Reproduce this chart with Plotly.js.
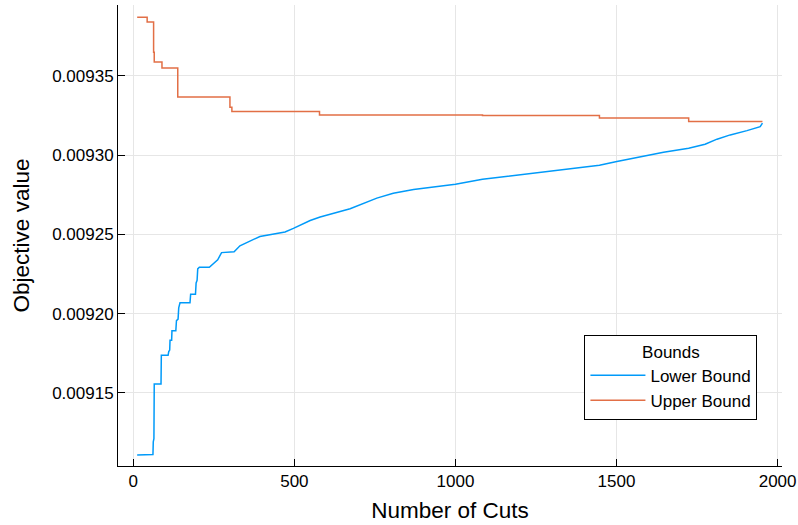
<!DOCTYPE html>
<html>
<head>
<meta charset="utf-8">
<script src="https://cdn.plot.ly/plotly-3.0.1.min.js"></script>
<style>html,body{margin:0;padding:0;background:#fff;}#chart{width:798px;height:525px;}</style>
</head>
<body>
<div id="chart"></div>
<script>
const lowerX = [12, 43, 43, 61, 62, 64, 65, 86, 87, 108, 110, 113, 114, 119, 120, 132, 134, 139, 141, 145, 176, 178, 193, 195, 198, 200, 205, 236, 262, 270, 274, 313, 331, 393, 440, 471, 497, 549, 580, 621, 673, 756, 807, 870, 1000, 1084, 1201, 1315, 1447, 1501, 1584, 1646, 1724, 1775, 1812, 1853, 1905, 1946, 1953];
const lowerY = [0.0091107, 0.0091107, 0.009111, 0.009111, 0.009119, 0.009121, 0.0091555, 0.0091555, 0.0091737, 0.0091737, 0.009176, 0.009177, 0.0091832, 0.0091832, 0.0091891, 0.0091891, 0.0091956, 0.0091965, 0.0092036, 0.0092068, 0.0092068, 0.0092122, 0.0092122, 0.0092194, 0.009221, 0.0092282, 0.0092292, 0.0092292, 0.009234, 0.0092374, 0.0092385, 0.009239, 0.0092428, 0.0092487, 0.0092505, 0.0092515, 0.0092538, 0.0092588, 0.009261, 0.0092632, 0.0092662, 0.0092729, 0.009276, 0.0092783, 0.0092817, 0.0092848, 0.0092876, 0.0092905, 0.0092937, 0.009296, 0.0092995, 0.0093019, 0.0093044, 0.0093069, 0.0093101, 0.0093128, 0.0093155, 0.009318, 0.0093202];
const upperX = [12, 43, 63, 65, 89, 138, 300, 306, 578, 1084, 1447, 1724, 1953];
const upperY = [0.009387, 0.009384, 0.009365, 0.0093588, 0.009355, 0.0093368, 0.0093303, 0.0093275, 0.0093254, 0.009325, 0.0093235, 0.0093212, 0.0093212];
const xTicks = [0, 500, 1000, 1500, 2000];
const yTicks = [0.00915, 0.0092, 0.00925, 0.0093, 0.00935];
const yTickText = ["0.00915", "0.00920", "0.00925", "0.00930", "0.00935"];

const font = "Liberation Sans, Arial, sans-serif";
const traces = [
  {x: lowerX, y: lowerY, type: 'scatter', mode: 'lines', name: 'Lower Bound',
   line: {color: '#009af9', width: 1.5, shape: 'linear'}},
  {x: upperX, y: upperY, type: 'scatter', mode: 'lines', name: 'Upper Bound',
   line: {color: '#e26f46', width: 1.5, shape: 'hv'}}
];
const layout = {
  width: 798, height: 525,
  margin: {l: 118, r: 16, t: 5, b: 58.5},
  paper_bgcolor: '#fff', plot_bgcolor: '#fff',
  font: {family: font, size: 17, color: '#000'},
  showlegend: true,
  legend: {
    title: {text: 'Bounds', side: 'top center', font: {size: 17}},
    x: 0.963, y: 0.1008, xanchor: 'right', yanchor: 'bottom',
    bordercolor: '#000', borderwidth: 1, bgcolor: '#fff',
    font: {size: 17}, tracegroupgap: 0, itemwidth: 55
  },
  xaxis: {
    range: [-47.5, 2013.7], tickvals: xTicks, ticktext: xTicks.map(String),
    showgrid: true, gridcolor: '#e6e6e6', gridwidth: 1,
    showline: true, linecolor: '#000', linewidth: 1,
    ticks: 'inside', ticklen: 7, tickcolor: '#000', zeroline: false,
    tickfont: {size: 17},
    title: {text: 'Number of Cuts', font: {size: 22.5}, standoff: 11}
  },
  yaxis: {
    range: [0.0091038, 0.0093948], tickvals: yTicks, ticktext: yTickText,
    showgrid: true, gridcolor: '#e6e6e6', gridwidth: 1,
    showline: true, linecolor: '#000', linewidth: 1,
    ticks: 'inside', ticklen: 7, tickcolor: '#000', zeroline: false,
    tickfont: {size: 17},
    title: {text: 'Objective value', font: {size: 22.5}, standoff: 16}
  }
};
Plotly.newPlot('chart', traces, layout, {displayModeBar: false, staticPlot: true});
</script>
</body>
</html>
